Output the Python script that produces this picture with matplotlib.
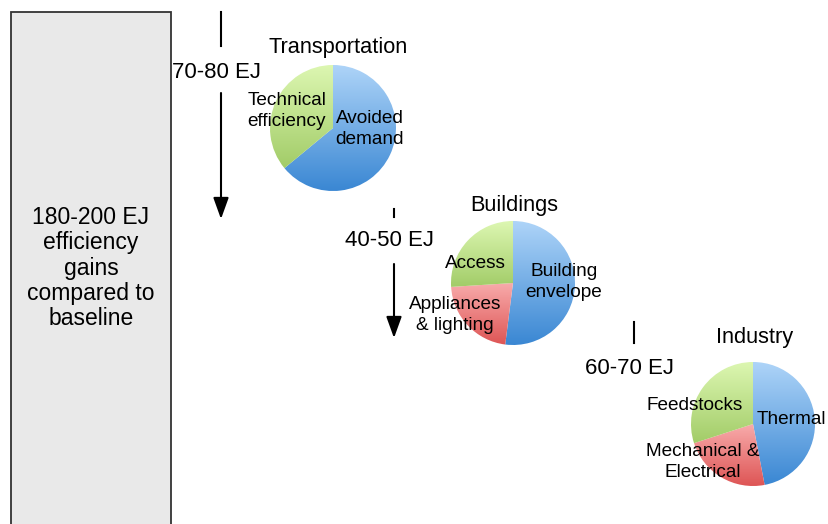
import numpy as np
import matplotlib
matplotlib.use('Agg')
import matplotlib.pyplot as plt
from matplotlib.patches import Rectangle
from matplotlib.colors import LinearSegmentedColormap

plt.rcParams['font.family'] = ['Liberation Sans', 'DejaVu Sans']

# sector data (shares, clockwise from 12 o'clock)
sectors = ['Transportation', 'Buildings', 'Industry']
ranges = ['70-80 EJ', '40-50 EJ', '60-70 EJ']
total_label = '180-200 EJ\nefficiency\ngains\ncompared to\nbaseline'

transport_parts = ['Avoided\ndemand', 'Technical\nefficiency']
transport_shares = [64, 36]
buildings_parts = ['Building\nenvelope', 'Appliances\n& lighting', 'Access']
buildings_shares = [52, 22, 26]
industry_parts = ['Thermal', 'Mechanical &\nElectrical', 'Feedstocks']
industry_shares = [47, 23, 30]

shades = {
    'blue': ('#aed4f8', '#3a87d3'),
    'red': ('#f8abab', '#de5555'),
    'green': ('#ddf7b2', '#a2cc68'),
}

fig = plt.figure(figsize=(8.29, 5.24), dpi=100)
ax = fig.add_axes([0, 0, 1, 1])
W, H = 829, 524

# left box
ax.add_patch(Rectangle((11, 12), 160, 530, facecolor='#e9e9e9',
                       edgecolor='#333333', lw=1.3))
ax.text(91, 268, total_label, ha='center', va='center', fontsize=16.5,
        linespacing=1.13)


def arrow(x, y0, y1, y2, y3, label, ylab):
    ax.plot([x, x], [y0, y1], color='black', lw=1.5)
    ax.annotate('', xy=(x, y3), xytext=(x, y2),
                arrowprops=dict(arrowstyle='-|>,head_length=1.3,head_width=0.47',
                                color='black', lw=1.5, shrinkA=0, shrinkB=0))
    ax.text(x - 4, ylab, label, ha='center', va='center', fontsize=16)


arrow(221, 12, 46, 93, 219, ranges[0], 73)
arrow(394, 209, 217, 264, 338, ranges[1], 241)
arrow(634, 322, 343, 388, 532, ranges[2], 368)


def gradient_pie(cx, cy, r, shares, colors):
    # y runs downward, so startangle=-90 is 12 o'clock and counterclock=True
    # turns clockwise on screen
    wedges, _ = ax.pie(shares, radius=r, center=(cx, cy), startangle=-90,
                       counterclock=True, frame=True,
                       wedgeprops=dict(linewidth=0))
    for w, c in zip(wedges, colors):
        w.set_facecolor('none')
        # vertical gradient over each wedge's own height
        a = np.radians(np.linspace(w.theta1, w.theta2, 200))
        ys = np.concatenate([[cy], cy + r * np.sin(a)])
        cmap = LinearSegmentedColormap.from_list('g', shades[c])
        grad = np.linspace(0, 1, 256).reshape(-1, 1)
        im = ax.imshow(grad, cmap=cmap,
                       extent=[cx - r, cx + r, ys.max(), ys.min()],
                       aspect='auto', zorder=1)
        im.set_clip_path(w)


gradient_pie(333, 128, 63, transport_shares, ['blue', 'green'])
gradient_pie(513, 283, 62, buildings_shares, ['blue', 'red', 'green'])
gradient_pie(753, 424, 62, industry_shares, ['blue', 'red', 'green'])

ax.text(338, 48, sectors[0], ha='center', va='center', fontsize=15.7)
ax.text(514, 206, sectors[1], ha='center', va='center', fontsize=15.7)
ax.text(755, 338, sectors[2], ha='center', va='center', fontsize=15.7)

lab = dict(ha='center', va='center', fontsize=13.7, linespacing=1.32, zorder=3)
ax.text(287, 111, transport_parts[1], **lab)
ax.text(370, 129, transport_parts[0], **lab)
ax.text(475, 263, buildings_parts[2], **lab)
ax.text(564, 282, buildings_parts[0], **lab)
ax.text(455, 315, buildings_parts[1], **lab)
ax.text(695, 405, industry_parts[2], **lab)
ax.text(757, 420, industry_parts[0], ha='left', va='center', fontsize=13.7, zorder=3)
ax.text(703, 462, industry_parts[1], **lab)

ax.set_xlim(0, W)
ax.set_ylim(H, 0)
ax.set_aspect('auto')
ax.axis('off')

fig.savefig('out.png', dpi=100)
